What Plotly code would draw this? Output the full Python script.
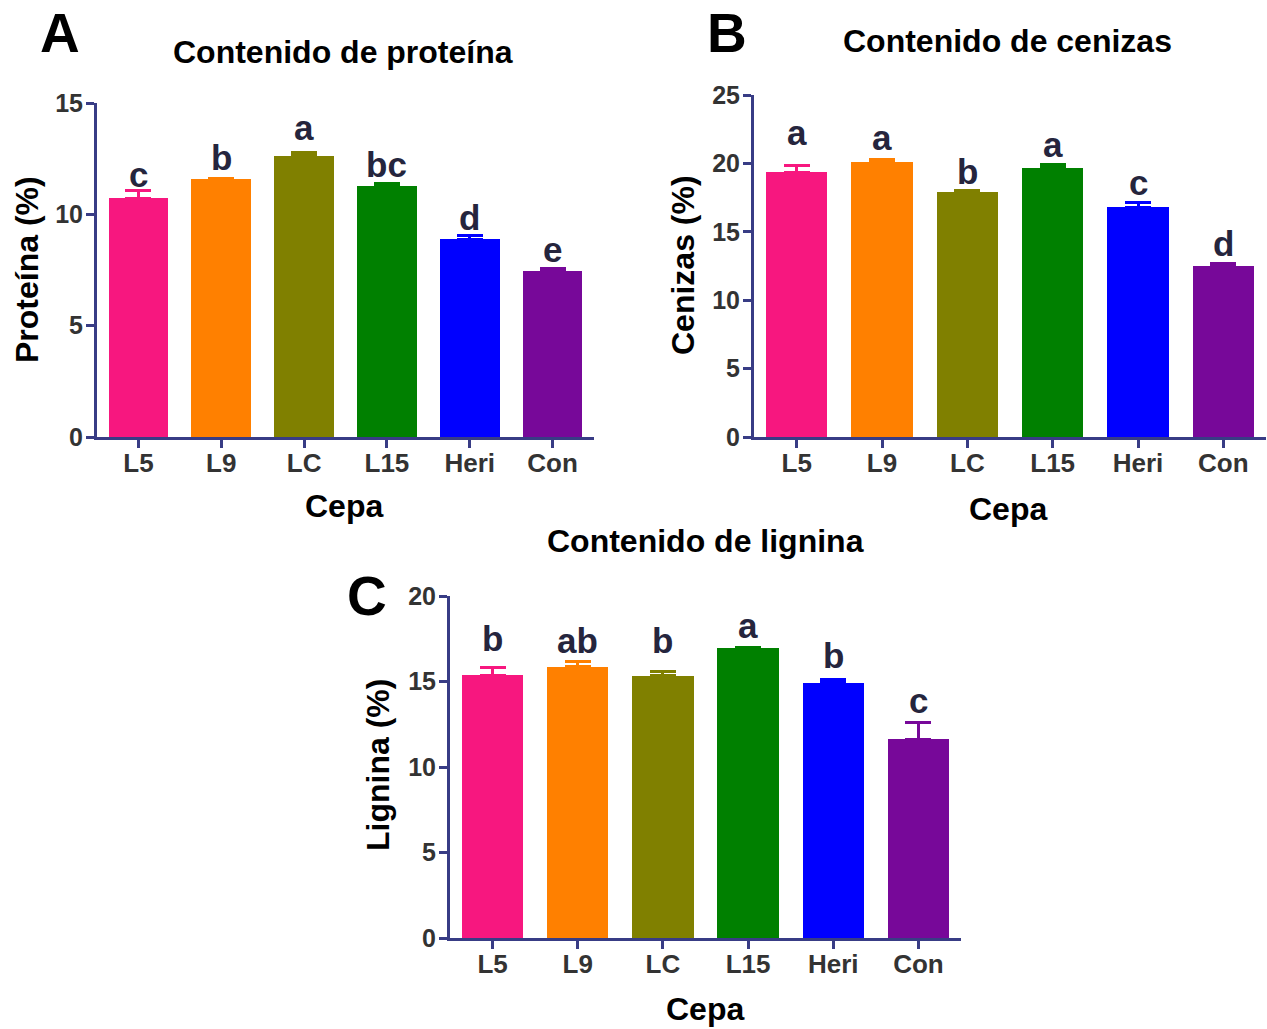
import plotly.graph_objects as go

W, H = 1267, 1029

categories = ["L5", "L9", "LC", "L15", "Heri", "Con"]
colors = ["#F7177F", "#FF8000", "#808000", "#008000", "#0000FF", "#770899"]

protein_mean = [10.72, 11.60, 12.63, 11.27, 8.88, 7.47]
protein_err = [0.35, 0.03, 0.13, 0.11, 0.15, 0.09]
protein_letters = ["c", "b", "a", "bc", "d", "e"]

ash_mean = [19.36, 20.11, 17.90, 19.70, 16.80, 12.48]
ash_err = [0.50, 0.17, 0.12, 0.22, 0.32, 0.19]
ash_letters = ["a", "a", "b", "a", "c", "d"]

lignin_mean = [15.37, 15.86, 15.35, 16.95, 14.93, 11.62]
lignin_err = [0.47, 0.29, 0.22, 0.05, 0.19, 0.97]
lignin_letters = ["b", "ab", "b", "a", "b", "c"]

FONT = "Liberation Sans, Arial, sans-serif"
AXIS_COLOR = "#383c85"
TICK_COLOR = "#333333"
LETTER_COLOR = "#25253d"


def px_x(p):
    return p / W


def px_y(p):
    return 1 - p / H


panels = [
    dict(mean=protein_mean, err=protein_err, letters=protein_letters, ymax=15, dtick=5,
         shifts=[-5, -1, 4, -2, -3, -2],
         xdom=(97, 594), ydom=(437, 103), title="Contenido de proteína", tpos=(343, 52),
         label="A", lpos=(60, 33), ytitle="Proteína (%)", ytpos=(27, 270), xtpos=(344, 506)),
    dict(mean=ash_mean, err=ash_err, letters=ash_letters, ymax=25, dtick=5,
         shifts=[11, 1, -3, -2, -1, -1],
         xdom=(754, 1266), ydom=(437, 95), title="Contenido de cenizas", tpos=(1007, 41),
         label="B", lpos=(727, 33), ytitle="Cenizas (%)", ytpos=(683, 265), xtpos=(1008, 509)),
    dict(mean=lignin_mean, err=lignin_err, letters=lignin_letters, ymax=20, dtick=5,
         shifts=[7, 0, 10, 0, 2, 1],
         xdom=(450, 961), ydom=(938, 596), title="Contenido de lignina", tpos=(705, 541),
         label="C", lpos=(367, 596), ytitle="Lignina (%)", ytpos=(378, 765), xtpos=(705, 1009)),
]

fig = go.Figure()
annotations = []
layout_axes = {}

for i, p in enumerate(panels):
    n = "" if i == 0 else str(i + 1)
    xa, ya = "x" + n, "y" + n
    for c, m, e, col in zip(categories, p["mean"], p["err"], colors):
        fig.add_trace(go.Bar(
            x=[c], y=[m], xaxis=xa, yaxis=ya, width=0.72,
            marker=dict(color=col, line=dict(width=0)),
            error_y=dict(type="data", symmetric=False, array=[e], arrayminus=[0],
                         color=col, thickness=3, width=13),
            showlegend=False, hoverinfo="x+y",
        ))
    for c, m, e, let, s in zip(categories, p["mean"], p["err"], p["letters"], p["shifts"]):
        annotations.append(dict(
            x=c, y=m + e, xref=xa, yref=ya, text=let, showarrow=False,
            yanchor="bottom", yshift=s,
            font=dict(family=FONT, size=35, color=LETTER_COLOR, weight="bold"),
        ))
    layout_axes["xaxis" + n] = dict(
        domain=[px_x(p["xdom"][0]), px_x(p["xdom"][1])], anchor=ya,
        categoryorder="array", categoryarray=categories, range=[-0.5, 5.5],
        showline=True, linecolor=AXIS_COLOR, linewidth=3,
        ticks="outside", ticklen=8, tickwidth=3, tickcolor=AXIS_COLOR,
        tickfont=dict(family=FONT, size=26, color=TICK_COLOR, weight="bold"),
        ticklabelstandoff=-7,
        showgrid=False, zeroline=False, fixedrange=True,
    )
    layout_axes["yaxis" + n] = dict(
        domain=[px_y(p["ydom"][0]), px_y(p["ydom"][1])], anchor=xa,
        range=[0, p["ymax"]], tickmode="linear", tick0=0, dtick=p["dtick"],
        showline=True, linecolor=AXIS_COLOR, linewidth=3,
        ticks="outside", ticklen=8, tickwidth=3, tickcolor=AXIS_COLOR,
        tickfont=dict(family=FONT, size=25, color=TICK_COLOR, weight="bold"),
        ticklabelstandoff=-2,
        showgrid=False, zeroline=False, fixedrange=True,
    )
    annotations.append(dict(
        x=px_x(p["tpos"][0]), y=px_y(p["tpos"][1]), xref="paper", yref="paper",
        text=p["title"], showarrow=False, xanchor="center", yanchor="middle",
        font=dict(family=FONT, size=32, color="#000000", weight="bold"),
    ))
    annotations.append(dict(
        x=px_x(p["lpos"][0]), y=px_y(p["lpos"][1]), xref="paper", yref="paper",
        text=p["label"], showarrow=False, xanchor="center", yanchor="middle",
        font=dict(family=FONT, size=55, color="#000000", weight="bold"),
    ))
    annotations.append(dict(
        x=px_x(p["ytpos"][0]), y=px_y(p["ytpos"][1]), xref="paper", yref="paper",
        text=p["ytitle"], showarrow=False, xanchor="center", yanchor="middle", textangle=-90,
        font=dict(family=FONT, size=32, color="#000000", weight="bold"),
    ))
    annotations.append(dict(
        x=px_x(p["xtpos"][0]), y=px_y(p["xtpos"][1]), xref="paper", yref="paper",
        text="Cepa", showarrow=False, xanchor="center", yanchor="middle",
        font=dict(family=FONT, size=32, color="#000000", weight="bold"),
    ))

fig.update_layout(
    width=W, height=H, autosize=False,
    margin=dict(l=0, r=0, t=0, b=0, autoexpand=False),
    paper_bgcolor="white", plot_bgcolor="white",
    barmode="overlay", bargap=0,
    annotations=annotations,
    **layout_axes,
)

fig.write_html(
    "out.html",
    config={"displayModeBar": False},
    post_script="document.documentElement.style.margin='0';document.body.style.margin='0';document.body.style.overflow='hidden';",
)
